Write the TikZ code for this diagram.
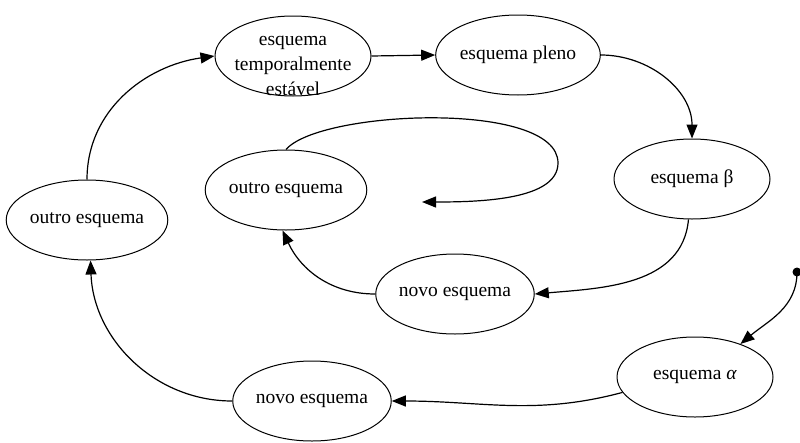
\documentclass[tikz,border=0pt]{standalone}
\usepackage{fontspec}
\setmainfont{Liberation Serif}
\usetikzlibrary{arrows.meta,shapes.geometric}
\begin{document}
\begin{tikzpicture}[x=1pt,y=-1pt,
  state/.style={draw,ellipse,line width=1pt,minimum width=156pt,minimum height=80pt,inner sep=0pt,align=center,font=\fontsize{19.5}{25}\selectfont},
  txt/.style={inner sep=0pt,align=center,font=\fontsize{19.5}{25}\selectfont},
  conn/.style={line width=1.2pt,-{Triangle[length=14pt,width=11pt]}}]
\useasboundingbox (0,0) rectangle (800,442);
\node[state] (t) at (293,56) {};
\node[txt] (tt) at (293,66) {esquema\\temporalmente\\estável};
\node[state] (p) at (518,55) {esquema pleno};
\node[state] (b) at (692,179) {esquema β};
\node[state] (io) at (286,190) {outro esquema};
\node[state] (lo) at (87,220) {outro esquema};
\node[state] (mn) at (455,294) {novo esquema};
\node[state] (a) at (695,377) {esquema \textit{α}};
\node[state] (bn) at (312,401) {novo esquema};
\coordinate (dot) at (797,272);
\coordinate (loopend) at (422,202);
\fill (dot) circle (4.5pt);
\draw[conn] (lo.north) to[out=90,in=188] (t.west);
\draw[conn] (t.east) -- (p.west);
\draw[conn] (p.east) to[out=0,in=90] (b.north);
\draw[conn] (b.-95) to[out=-95,in=5] (mn.east);
\draw[conn] (mn.west) to[out=180,in=-65] (io.-95);
\draw[conn] (io.north) .. controls (320,110) and (558,100) .. (558,163) .. controls (558,200) and (480,202) .. (loopend);
\draw[conn] (dot) to[out=-90,in=40] (a.36);
\draw[conn] (a.192) to[out=195,in=0] (bn.east);
\draw[conn] (bn.west) to[out=180,in=-88] (lo.-85);
\end{tikzpicture}
\end{document}
